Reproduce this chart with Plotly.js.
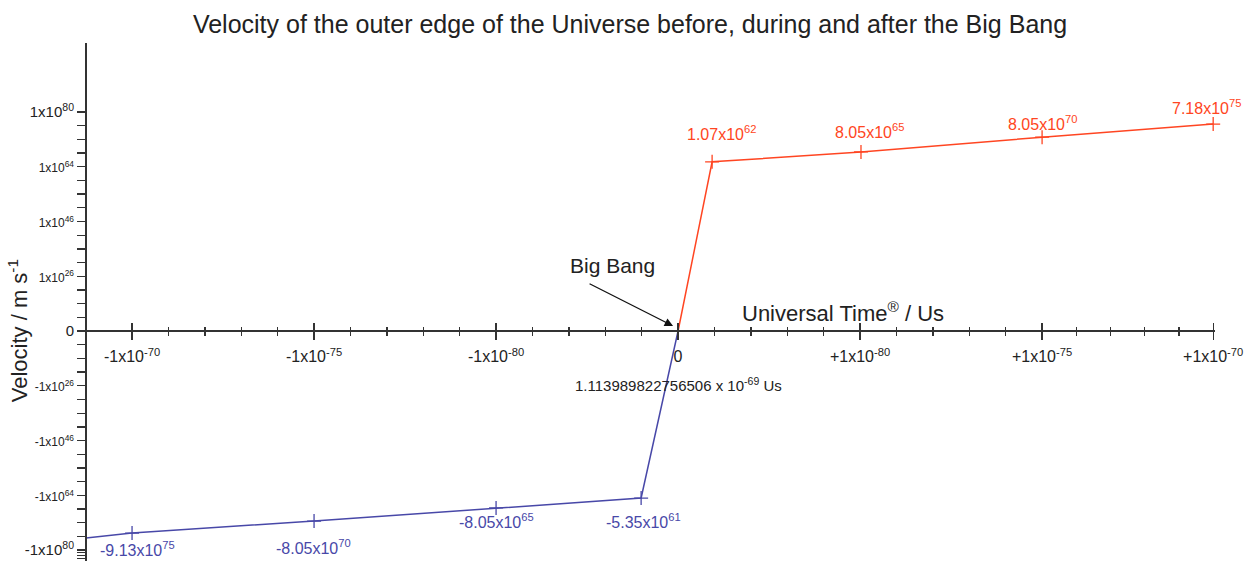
<!DOCTYPE html>
<html>
<head>
<meta charset="utf-8">
<script src="https://cdn.plot.ly/plotly-3.0.1.min.js"></script>
<style>html,body{margin:0;padding:0;background:#fff;}#chart{width:1255px;height:561px;}</style>
</head>
<body>
<div id="chart"></div>
<script>
// ---- data (axis units) ----
const xTickLabels = ["-1x10<sup>-70</sup>", "-1x10<sup>-75</sup>", "-1x10<sup>-80</sup>", "0", "+1x10<sup>-80</sup>", "+1x10<sup>-75</sup>", "+1x10<sup>-70</sup>"];
const yTickLabels = ["-1x10<sup>80</sup>", "-1x10<sup>64</sup>", "-1x10<sup>46</sup>", "-1x10<sup>26</sup>", "0", "1x10<sup>26</sup>", "1x10<sup>46</sup>", "1x10<sup>64</sup>", "1x10<sup>80</sup>"];

const afterX = [0, 0.187, 1.005, 2.0, 2.94];
const afterY = [0, 3.09, 3.27, 3.54, 3.78];
const afterLabels = ["1.07x10<sup>62</sup>", "8.05x10<sup>65</sup>", "8.05x10<sup>70</sup>", "7.18x10<sup>75</sup>"];

const beforeX = [-3.253, -3.0, -2.0, -1.0, -0.203, 0];
const beforeY = [-3.78, -3.69, -3.47, -3.23, -3.05, 0];
const beforeLabels = ["-9.13x10<sup>75</sup>", "-8.05x10<sup>70</sup>", "-8.05x10<sup>65</sup>", "-5.35x10<sup>61</sup>"];

// ---- styling ----
const RED = '#ff4522', BLUE = '#4848a8', AX = '#333333';
const FONT = 'Liberation Sans, Arial, sans-serif';
const xTickPos = [-3, -2, -1, 0, 1, 2, 2.94];
const yTickPos = [-4, -3, -2, -1, 0, 1, 2, 3, 4];
const xRange = [-3.253, 2.95];
const yRange = [-4.2, 5.26];
const axisPos = (0 - yRange[0]) / (yRange[1] - yRange[0]);

function minorBetween(pos, n) {
  const out = [];
  for (let i = 0; i < pos.length - 1; i++) {
    for (let k = 1; k <= n; k++) out.push(pos[i] + (pos[i + 1] - pos[i]) * k / (n + 1));
  }
  return out;
}
const xMinor = minorBetween(xTickPos, 4);
const yMinor = minorBetween([-4.2].concat(yTickPos), 3).filter(v => v > -4.2);

const yText = yTickLabels.map((t, i) =>
  (Math.abs(yTickPos[i]) === 4 || yTickPos[i] === 0) ? t : '<span style="font-size:12px">' + t + '</span>');

const afterOff = [[9, 29], [9, 21], [0, 14], [-7, 17]];
const beforeOff = [[5, -16], [-1, -26], [0, -13], [2, -23]];

const traces = [
  {x: afterX, y: afterY, mode: 'lines', line: {color: RED, width: 1.5}, hoverinfo: 'skip', showlegend: false, cliponaxis: false},
  {x: afterX.slice(1), y: afterY.slice(1), mode: 'markers', marker: {symbol: 'cross-thin', size: 10, line: {color: RED, width: 1.3}}, showlegend: false, cliponaxis: false},
  {x: beforeX, y: beforeY, mode: 'lines', line: {color: BLUE, width: 1.5}, hoverinfo: 'skip', showlegend: false, cliponaxis: false},
  {x: beforeX.slice(1, -1), y: beforeY.slice(1, -1), mode: 'markers', marker: {symbol: 'cross-thin', size: 10, line: {color: BLUE, width: 1.3}}, showlegend: false, cliponaxis: false},
  {x: [], y: [], xaxis: 'x2', yaxis: 'y', showlegend: false, hoverinfo: 'skip'}
];

const annotations = [];
afterLabels.forEach((t, i) => annotations.push({
  x: afterX[i + 1], y: afterY[i + 1], text: t, showarrow: false,
  xshift: afterOff[i][0], yshift: afterOff[i][1], font: {family: FONT, size: 16, color: RED}
}));
beforeLabels.forEach((t, i) => annotations.push({
  x: beforeX[i + 1], y: beforeY[i + 1], text: t, showarrow: false,
  xshift: beforeOff[i][0], yshift: beforeOff[i][1], font: {family: FONT, size: 16, color: BLUE}
}));
annotations.push(
  {x: 0, y: 0, text: '', showarrow: true, arrowhead: 2, arrowsize: 1.3, arrowwidth: 1.3, arrowcolor: '#111',
   axref: 'pixel', ayref: 'pixel', ax: -85, ay: -43, xshift: -5, yshift: 5, standoff: 0},
  {x: -0.363, y: 1.205, text: 'Big Bang', showarrow: false, font: {family: FONT, size: 21, color: '#222'}},
  {x: 0.907, y: 0.347, text: 'Universal Time<sup>®</sup> / Us', showarrow: false, font: {family: FONT, size: 22, color: '#222'}},
  {x: 0.005, y: -0.968, text: '1.113989822756506 x 10<sup>-69</sup> Us', showarrow: false, font: {family: FONT, size: 15, color: '#222'}},
  {xref: 'paper', x: -0.06, xanchor: 'center', y: 0, text: 'Velocity / m s<sup>-1</sup>', textangle: -90, showarrow: false, font: {family: FONT, size: 22, color: '#222'}}
);

const layout = {
  width: 1255, height: 561,
  margin: {l: 86, r: 40, t: 43, b: 0},
  paper_bgcolor: '#fff', plot_bgcolor: '#fff',
  font: {family: FONT, color: '#222'},
  title: {text: 'Velocity of the outer edge of the Universe before, during and after the Big Bang',
          xref: 'container', x: 0.502, xanchor: 'center', yref: 'container', y: 1 - 24 / 561, yanchor: 'middle',
          font: {family: FONT, size: 25, color: '#222'}},
  xaxis: {range: xRange, anchor: 'free', position: axisPos, side: 'bottom',
          showline: true, linecolor: AX, linewidth: 2, showgrid: false, zeroline: false,
          tickmode: 'array', tickvals: xTickPos, ticktext: xTickLabels,
          ticks: 'outside', ticklen: 8, tickwidth: 1.3, tickcolor: AX, ticklabelstandoff: 3,
          tickfont: {family: FONT, size: 16, color: '#222'},
          minor: {tickmode: 'array', tickvals: xMinor, ticks: 'outside', ticklen: 4, tickwidth: 1.3, tickcolor: AX, showgrid: false}},
  xaxis2: {range: xRange, overlaying: 'x', anchor: 'free', position: axisPos, side: 'top',
           showline: false, showgrid: false, zeroline: false, showticklabels: false,
           tickmode: 'array', tickvals: xTickPos, ticks: 'outside', ticklen: 8, tickwidth: 1.3, tickcolor: AX,
           minor: {tickmode: 'array', tickvals: xMinor, ticks: 'outside', ticklen: 4, tickwidth: 1.3, tickcolor: AX, showgrid: false}},
  yaxis: {range: yRange, anchor: 'free', position: 0,
          showline: true, linecolor: AX, linewidth: 2, showgrid: false, zeroline: false,
          tickmode: 'array', tickvals: yTickPos, ticktext: yText,
          ticks: 'outside', ticklen: 8, tickwidth: 1.3, tickcolor: AX, ticklabelstandoff: 0,
          tickfont: {family: FONT, size: 15, color: '#222'},
          minor: {tickmode: 'array', tickvals: yMinor, ticks: 'outside', ticklen: 8, tickwidth: 1.3, tickcolor: AX, showgrid: false}},
  annotations: annotations,
  showlegend: false
};

Plotly.newPlot('chart', traces, layout, {displayModeBar: false, staticPlot: true});
</script>
</body>
</html>
